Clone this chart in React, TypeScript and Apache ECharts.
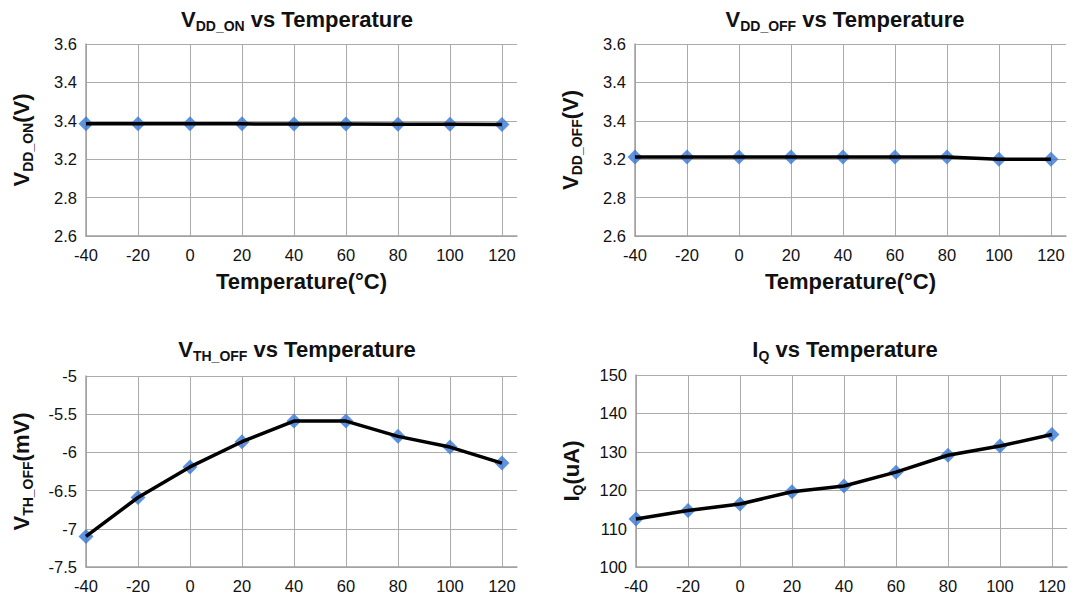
import React, { useEffect, useRef } from "react";
import * as echarts from "echarts";

const temps = [-40, -20, 0, 20, 40, 60, 80, 100, 120];
const vddOn = [3.185, 3.185, 3.184, 3.184, 3.183, 3.183, 3.182, 3.182, 3.181];
const vddOff = [3.012, 3.012, 3.012, 3.012, 3.012, 3.012, 3.012, 3.0, 3.0];
const vthOff = [-7.1, -6.59, -6.19, -5.86, -5.59, -5.59, -5.79, -5.93, -6.14];
const iq = [112.5, 114.7, 116.4, 119.6, 121.1, 124.7, 129.1, 131.5, 134.5];
const vddTickLabels = ["2.6", "2.8", "3.2", "3.4", "3.4", "3.6"];

const FONT = "'Liberation Sans', Arial, sans-serif";
const TXT = "#111";
const MARK = "#3878d4";

const rich = {
  m: { fontSize: 22, fontWeight: "bold", color: TXT, fontFamily: FONT, lineHeight: 22 },
  s: { fontSize: 14, fontWeight: "bold", color: TXT, fontFamily: FONT, lineHeight: 28, verticalAlign: "bottom" },
};

const grids = [
  { left: 86, top: 44, width: 431, height: 192 },
  { left: 635, top: 44, width: 431, height: 192 },
  { left: 86, top: 376, width: 431, height: 191 },
  { left: 636, top: 375, width: 431, height: 192 },
];

function xAxis(i: number, withName: boolean) {
  return {
    type: "value",
    gridIndex: i,
    min: -40,
    max: 125.8,
    interval: 20,
    axisLabel: {
      formatter: (v: number) => (Math.abs(v % 20) < 1e-6 && v <= 120 ? String(v) : ""),
      fontSize: 16.5,
      color: TXT,
      fontFamily: FONT,
      margin: 10,
      showMaxLabel: false,
    },
    axisTick: { show: false },
    axisLine: { show: true, onZero: false, lineStyle: { color: "#a0a0a0", width: 1.5 } },
    splitLine: { show: true, showMaxLine: false, showMinLine: true, lineStyle: { color: "#ababab", width: 1 } },
    name: withName ? "Temperature(°C)" : "",
    nameLocation: "middle",
    nameGap: 34,
    nameTextStyle: { fontSize: 22, fontWeight: "bold", color: TXT, fontFamily: FONT },
  };
}

function yAxis(i: number, min: number, max: number, interval: number, name: string, gap: number, fmt?: (v: number) => string) {
  return {
    type: "value",
    gridIndex: i,
    min,
    max,
    interval,
    axisLabel: {
      formatter: fmt,
      fontSize: 16.5,
      color: TXT,
      fontFamily: FONT,
      margin: 9,
    },
    axisTick: { show: false },
    axisLine: { show: true, onZero: false, lineStyle: { color: "#a0a0a0", width: 1.5 } },
    splitLine: { show: true, lineStyle: { color: "#ababab", width: 1 } },
    name,
    nameLocation: "middle",
    nameRotate: 90,
    nameGap: gap,
    nameTextStyle: { rich },
  };
}

const vddFmt = (v: number) => vddTickLabels[Math.round((v - 2.6) / 0.2)] ?? "";

function pairs(vals: number[]) {
  return temps.map((t, i) => [t, vals[i]]);
}

function seriesFor(i: number, vals: number[]) {
  return [
    {
      type: "scatter",
      xAxisIndex: i,
      yAxisIndex: i,
      data: pairs(vals),
      symbol: "diamond",
      symbolSize: 15,
      itemStyle: { color: MARK },
      z: 2,
    },
    {
      type: "line",
      xAxisIndex: i,
      yAxisIndex: i,
      data: pairs(vals),
      showSymbol: false,
      symbol: "none",
      lineStyle: { color: "#000", width: 3.5 },
      z: 3,
    },
  ];
}

function title(text: string, cx: number, top: number) {
  return {
    text,
    left: cx,
    top,
    textAlign: "center",
    padding: 0,
    textStyle: { rich },
  };
}

export default function App() {
  const ref = useRef<HTMLDivElement>(null);
  useEffect(() => {
    document.body.style.margin = "0";
    const chart = echarts.init(ref.current!, undefined, { renderer: "svg" });
    chart.setOption({
      animation: false,
      backgroundColor: "#fff",
      title: [
        title("{m|V}{s|DD_ON}{m| vs Temperature}", 297, 5),
        title("{m|V}{s|DD_OFF}{m| vs Temperature}", 845, 5),
        title("{m|V}{s|TH_OFF}{m| vs Temperature}", 297, 335),
        title("{m|I}{s|Q}{m| vs Temperature}", 845, 335),
      ],
      grid: grids,
      xAxis: [xAxis(0, true), xAxis(1, true), xAxis(2, false), xAxis(3, false)],
      yAxis: [
        yAxis(0, 2.6, 3.6, 0.2, "{m|V}{s|DD_ON}{m|(V)}", 51, vddFmt),
        yAxis(1, 2.6, 3.6, 0.2, "{m|V}{s|DD_OFF}{m|(V)}", 51, vddFmt),
        yAxis(2, -7.5, -5, 0.5, "{m|V}{s|TH_OFF}{m|(mV)}", 51),
        yAxis(3, 100, 150, 10, "{m|I}{s|Q}{m|(uA)}", 51),
      ],
      series: [
        ...seriesFor(0, vddOn),
        ...seriesFor(1, vddOff),
        ...seriesFor(2, vthOff),
        ...seriesFor(3, iq),
      ],
    });
    return () => chart.dispose();
  }, []);
  return <div ref={ref} style={{ width: 1078, height: 599 }} />;
}
